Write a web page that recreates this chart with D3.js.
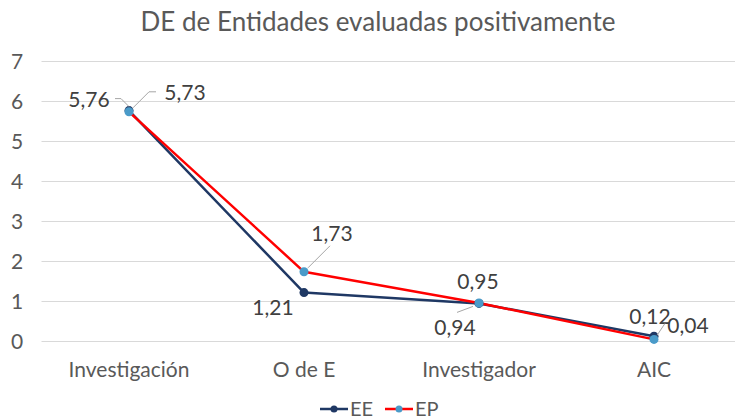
<!DOCTYPE html>
<html>
<head>
<meta charset="utf-8">
<script src="https://cdn.jsdelivr.net/npm/d3@7"></script>
<style>
  body { margin: 0; background: #fff; }
  svg { display: block; font-family: "Lato", "Open Sans", sans-serif; }
</style>
</head>
<body>
<svg width="735" height="419"></svg>
<script>
"use strict";

var categories = ["Investigación", "O de E", "Investigador", "AIC"];
var seriesNames = ["EE", "EP"];
var eeValues = [5.76, 1.21, 0.94, 0.12];
var epValues = [5.73, 1.73, 0.95, 0.04];
var yTicks = [0, 1, 2, 3, 4, 5, 6, 7];

var svg = d3.select("svg"),
    width = +svg.attr("width"),
    height = +svg.attr("height");

var textColor = "#595959";
var colors = { EE: "#1f3864", EP: "#ff0000" };
var markerColors = { EE: "#1f3864", EP: "#4a9bc9" };

var x = d3.scaleBand().domain(categories).range([41.5, 741.5]);
var y = d3.scaleLinear().domain([0, 7]).range([341, 61]);

var series = [
  { name: "EE", values: eeValues },
  { name: "EP", values: epValues }
];

// label offsets relative to the point: dx, dy and leader line points
var labelLayout = {
  EE: [
    { dx: -40, dy: -11, leader: [[-14, -12], [-8, -12], [0, -4]] },
    { dx: -31, dy: 15, leader: null },
    { dx: -24, dy: 24, leader: [[-6, 3], [-22, 9]] },
    { dx: -4, dy: -20, leader: null }
  ],
  EP: [
    { dx: 56, dy: -19, leader: [[4, -4], [20, -20], [27, -20]] },
    { dx: 28, dy: -38, leader: [[4, -4], [26, -26]] },
    { dx: -1, dy: -21, leader: null },
    { dx: 34, dy: -14, leader: [[3, -4], [11, -16]] }
  ]
};

var fmt = function (v) { return d3.format(".2f")(v).replace(".", ","); };

// title
svg.append("text")
  .attr("x", 378).attr("y", 31)
  .attr("text-anchor", "middle")
  .attr("fill", textColor)
  .attr("font-size", 26)
  .text("DE de Entidades evaluadas positivamente");

// gridlines
svg.append("g").selectAll("line")
  .data(yTicks).enter().append("line")
  .attr("x1", 41.5).attr("x2", 741.5)
  .attr("y1", function (d) { return Math.round(y(d)) + 0.5; })
  .attr("y2", function (d) { return Math.round(y(d)) + 0.5; })
  .attr("stroke", "#d9d9d9").attr("stroke-width", 1);

// y axis labels
var yAxis = d3.axisLeft(y).tickValues(yTicks).tickFormat(d3.format("d")).tickSize(0).tickPadding(0);
var gy = svg.append("g").attr("transform", "translate(24,0)").call(yAxis);
gy.select(".domain").remove();
gy.selectAll("text")
  .attr("font-size", 21).attr("fill", textColor)
  .attr("font-family", "Lato, sans-serif")
  .attr("text-anchor", "middle").attr("x", -7).attr("dy", "0.35em");

// x axis labels
var xAxis = d3.axisBottom(x).tickSize(0).tickPadding(0);
var gx = svg.append("g").attr("transform", "translate(0,362)").call(xAxis);
gx.select(".domain").remove();
gx.selectAll("text")
  .attr("font-size", 21).attr("fill", textColor)
  .attr("font-family", "Lato, sans-serif")
  .attr("dy", "0.7em");

var line = d3.line()
  .x(function (d, i) { return x(categories[i]) + x.bandwidth() / 2; })
  .y(function (d) { return y(d); });

var g = svg.append("g");
series.forEach(function (s) {
  g.append("path")
    .datum(s.values)
    .attr("fill", "none")
    .attr("stroke", colors[s.name])
    .attr("stroke-width", 2.5)
    .attr("stroke-linejoin", "round")
    .attr("d", line);
});
series.forEach(function (s) {
  g.selectAll(".pt-" + s.name)
    .data(s.values).enter().append("circle")
    .attr("cx", function (d, i) { return x(categories[i]) + x.bandwidth() / 2; })
    .attr("cy", function (d) { return y(d); })
    .attr("r", 4.5)
    .attr("fill", markerColors[s.name]);
});

// data labels with leader lines
series.forEach(function (s) {
  s.values.forEach(function (v, i) {
    var px = x(categories[i]) + x.bandwidth() / 2, py = y(v);
    var lay = labelLayout[s.name][i];
    if (lay.leader) {
      svg.append("polyline")
        .attr("points", lay.leader.map(function (p) { return (px + p[0]) + "," + (py + p[1]); }).join(" "))
        .attr("fill", "none").attr("stroke", "#a6a6a6").attr("stroke-width", 1);
    }
    svg.append("text")
      .attr("x", px + lay.dx).attr("y", py + lay.dy)
      .attr("text-anchor", "middle").attr("dy", "0.35em")
      .attr("font-size", 21).attr("fill", "#404040")
      .text(fmt(v));
  });
});

// legend
var legend = svg.append("g").attr("transform", "translate(320,409)");
seriesNames.forEach(function (n, i) {
  var lg = legend.append("g").attr("transform", "translate(" + (i * 65) + ",0)");
  lg.append("line").attr("x1", 0).attr("x2", 28).attr("y1", 0).attr("y2", 0)
    .attr("stroke", colors[n]).attr("stroke-width", 2.5);
  lg.append("circle").attr("cx", 14).attr("cy", 0).attr("r", 3.5).attr("fill", markerColors[n]);
  lg.append("text").attr("x", 30).attr("y", 0).attr("dy", "0.35em")
    .attr("font-size", 20).attr("fill", textColor).text(n);
});
</script>
</body>
</html>
